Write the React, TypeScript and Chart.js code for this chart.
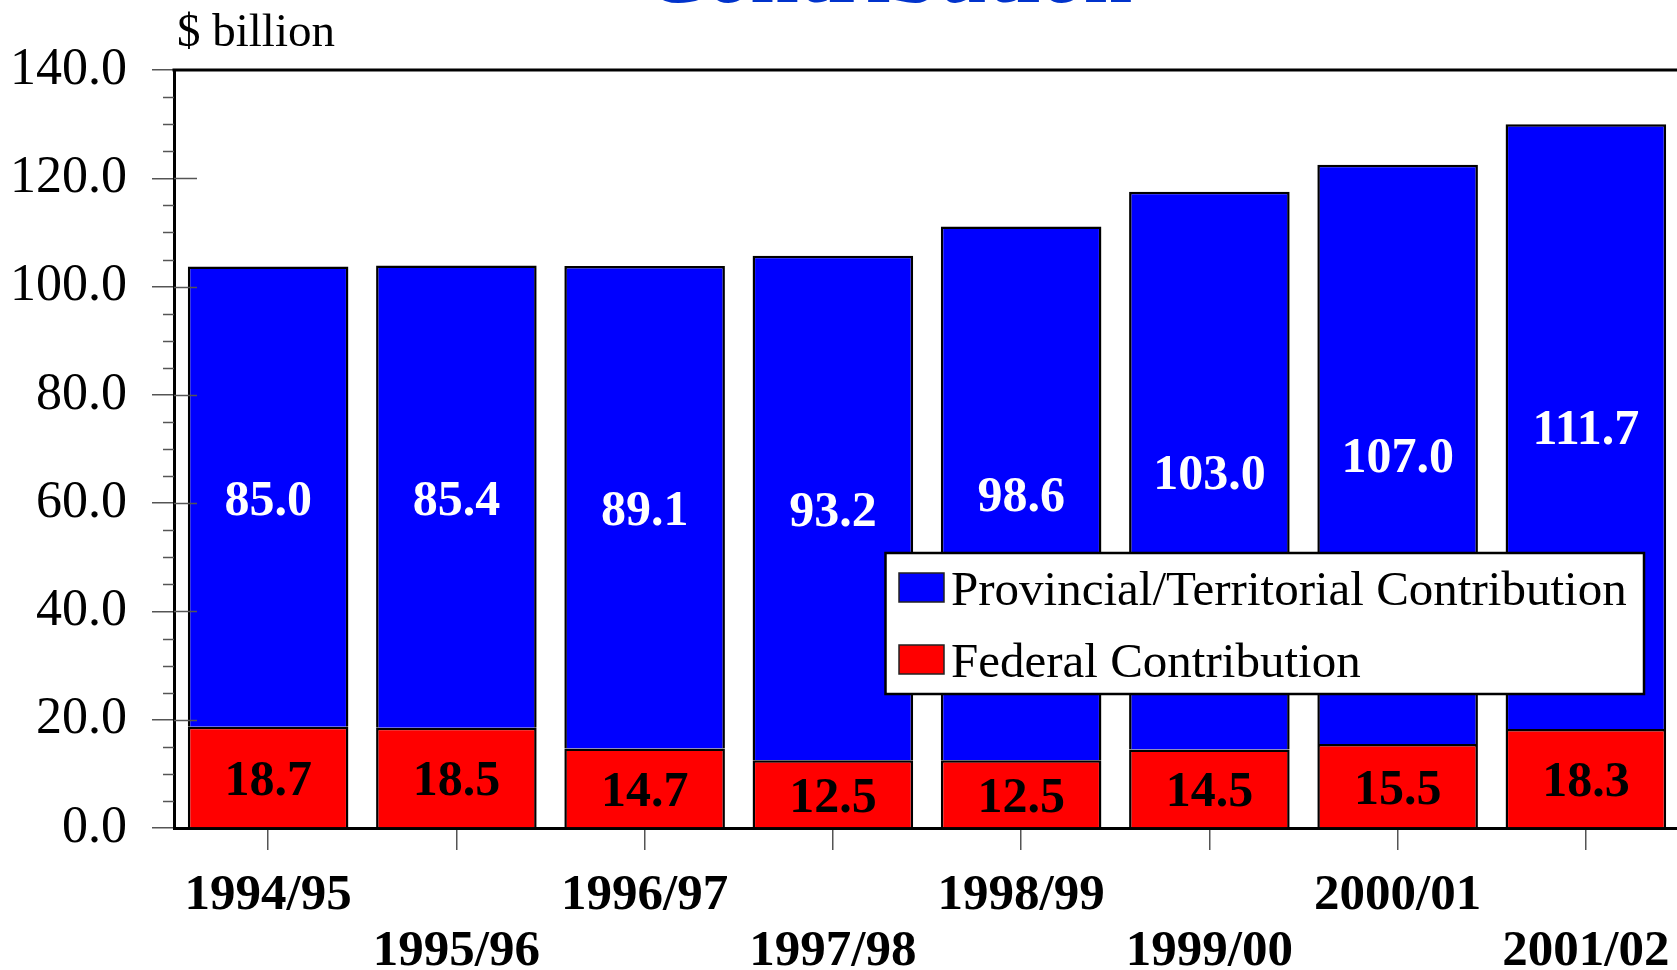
import React, { useEffect, useRef } from 'react';
import { Chart, registerables } from 'chart.js';

Chart.register(...registerables);

const categories = ['1994/95', '1995/96', '1996/97', '1997/98', '1998/99', '1999/00', '2000/01', '2001/02'];
const federal = [18.7, 18.5, 14.7, 12.5, 12.5, 14.5, 15.5, 18.3];
const provincial = [85.0, 85.4, 89.1, 93.2, 98.6, 103.0, 107.0, 111.7];
const yTickValues = [0, 20, 40, 60, 80, 100, 120, 140];
const seriesNames = ['Provincial/Territorial Contribution', 'Federal Contribution'];
const unitLabel = '$ billion';
const titleText = 'Contribution';

const SERIF = '"Liberation Serif", "Times New Roman", serif';
const BLUE = '#0000ff';
const RED = '#ff0000';

const decorPlugin = {
  id: 'decor',
  afterDatasetsDraw(chart: any) {
    const ctx = chart.ctx as CanvasRenderingContext2D;
    const ca = chart.chartArea;
    const ys = chart.scales.y;
    ctx.save();

    // minor ticks on y axis
    ctx.strokeStyle = '#555';
    ctx.lineWidth = 1.5;
    for (let v = 0; v <= 140; v += 5) {
      if (v % 20 === 0) continue;
      const py = Math.round(ys.getPixelForValue(v)) + 0.5;
      ctx.beginPath();
      ctx.moveTo(ca.left - 11, py);
      ctx.lineTo(ca.left, py);
      ctx.stroke();
    }
    // inner extension of major ticks
    yTickValues.forEach((v) => {
      if (v === 0 || v === 140) return;
      const py = Math.round(ys.getPixelForValue(v)) + 0.5;
      ctx.beginPath();
      ctx.moveTo(ca.left, py);
      ctx.lineTo(ca.left + 23, py);
      ctx.stroke();
    });

    // value labels
    ctx.font = `bold 50px ${SERIF}`;
    ctx.textAlign = 'center';
    ctx.textBaseline = 'middle';
    chart.data.datasets.forEach((ds: any, i: number) => {
      const meta = chart.getDatasetMeta(i);
      meta.data.forEach((bar: any, j: number) => {
        const p = bar.getProps(['x', 'y', 'base'], true);
        const cy = (p.y + p.base) / 2;
        ctx.fillStyle = ds.labelColor;
        ctx.fillText(Number(ds.data[j]).toFixed(1), p.x, cy + 5);
      });
    });

    // top border of plot
    ctx.strokeStyle = '#000';
    ctx.lineWidth = 3;
    ctx.beginPath();
    ctx.moveTo(ca.left - 1.5, ca.top);
    ctx.lineTo(ca.right + 20, ca.top);
    ctx.stroke();

    // legend box
    const lx = 885.5, ly = 553, lw = 758.5, lh = 141;
    ctx.fillStyle = '#fff';
    ctx.fillRect(lx, ly, lw, lh);
    ctx.strokeStyle = '#000';
    ctx.lineWidth = 2.5;
    ctx.strokeRect(lx, ly, lw, lh);
    const items = [
      { name: seriesNames[0], color: BLUE, top: 573, base: 605 },
      { name: seriesNames[1], color: RED, top: 645, base: 677 },
    ];
    ctx.font = `49px ${SERIF}`;
    ctx.textAlign = 'left';
    ctx.textBaseline = 'alphabetic';
    items.forEach((it) => {
      ctx.fillStyle = it.color;
      ctx.fillRect(899, it.top, 45, 29);
      ctx.strokeStyle = '#222';
      ctx.lineWidth = 1.5;
      ctx.strokeRect(899, it.top, 45, 29);
      ctx.fillStyle = '#000';
      ctx.fillText(it.name, 951, it.base);
    });

    // unit label
    ctx.font = `47px ${SERIF}`;
    ctx.fillStyle = '#000';
    ctx.fillText(unitLabel, ca.left + 3, 46);

    // title (mostly cut off at top)
    ctx.font = `bold 87px ${SERIF}`;
    ctx.fillStyle = '#0033cc';
    ctx.textAlign = 'center';
    ctx.fillText(titleText, 888, 2);

    ctx.restore();
  },
};

export default function App() {
  const ref = useRef<HTMLCanvasElement | null>(null);

  useEffect(() => {
    if (!ref.current) return;
    const chart = new Chart(ref.current, {
      type: 'bar',
      data: {
        labels: categories,
        datasets: [
          {
            label: seriesNames[1],
            data: federal,
            backgroundColor: RED,
            borderColor: '#000',
            borderWidth: 2.5,
            barPercentage: 0.853,
            categoryPercentage: 1,
            labelColor: '#000',
          } as any,
          {
            label: seriesNames[0],
            data: provincial,
            backgroundColor: BLUE,
            borderColor: '#000',
            borderWidth: 2.5,
            barPercentage: 0.853,
            categoryPercentage: 1,
            labelColor: '#fff',
          } as any,
        ],
      },
      options: {
        responsive: false,
        animation: false,
        devicePixelRatio: 1,
        layout: { padding: { top: 70, right: 10, left: 0, bottom: 0 } },
        plugins: {
          legend: { display: false },
          tooltip: { enabled: false },
          title: { display: false },
        },
        scales: {
          x: {
            stacked: true,
            offset: true,
            afterFit: (s: any) => { s.height = 142; },
            grid: {
              offset: false,
              drawOnChartArea: false,
              drawTicks: true,
              tickLength: 22,
              color: '#555',
              tickColor: '#555',
              lineWidth: 1.5,
            },
            border: { display: true, color: '#000', width: 3 },
            ticks: {
              autoSkip: false,
              maxRotation: 0,
              minRotation: 0,
              padding: 18,
              color: '#000',
              font: { family: SERIF, size: 51, weight: 'bold', lineHeight: 1.09 },
              callback: (_v: any, idx: number) => (idx % 2 === 0 ? [categories[idx]] : ['', categories[idx]]),
            },
          },
          y: {
            stacked: true,
            min: 0,
            max: 140,
            afterFit: (s: any) => { s.width = 174; },
            grid: {
              drawOnChartArea: false,
              drawTicks: true,
              tickLength: 22,
              color: '#555',
              tickColor: '#555',
              lineWidth: 1.5,
            },
            border: { display: true, color: '#000', width: 3 },
            ticks: {
              stepSize: 20,
              padding: 25,
              color: '#000',
              font: { family: SERIF, size: 52 },
              callback: (v: any) => Number(v).toFixed(1),
            },
          },
        },
      } as any,
      plugins: [decorPlugin],
    });
    return () => chart.destroy();
  }, []);

  return (
    <div style={{ position: 'fixed', left: 0, top: 0, width: 1677, height: 970, overflow: 'hidden', background: '#fff' }}>
      <canvas ref={ref} width={1690} height={970} style={{ display: 'block' }} />
    </div>
  );
}
